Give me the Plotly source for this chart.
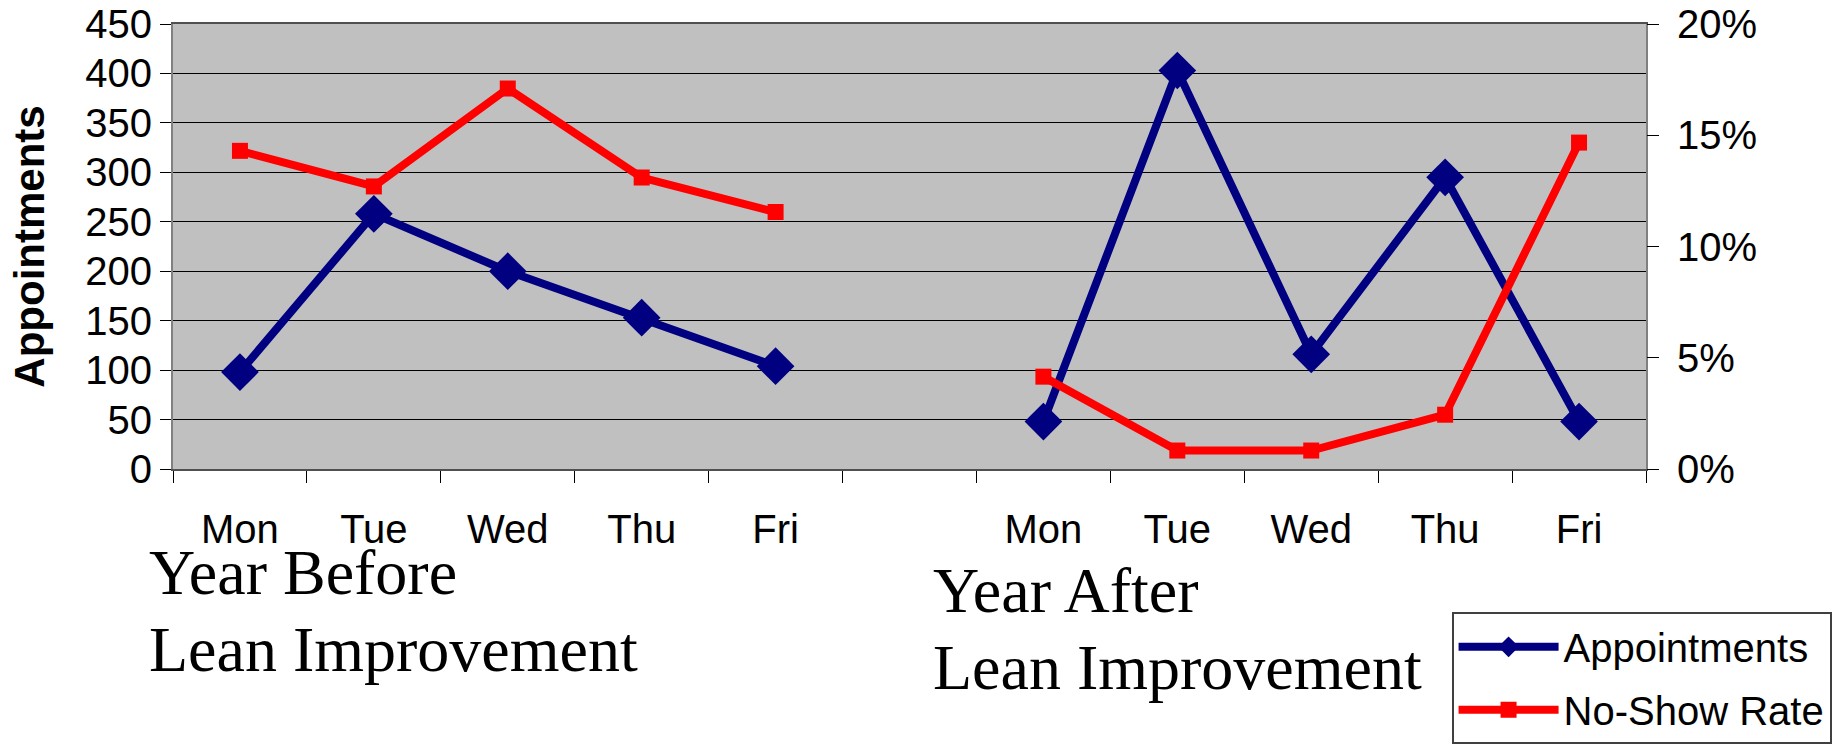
import plotly.graph_objects as go

# --- data ---
days = ["Mon", "Tue", "Wed", "Thu", "Fri"]

appts_before = [98, 258, 200, 153, 104]
appts_after = [48, 403, 116, 295, 48]

noshow_before = [0.143, 0.127, 0.171, 0.131, 0.1155]
noshow_after = [0.0415, 0.0083, 0.0083, 0.0244, 0.1467]

period_before = ["Year Before", "Lean Improvement"]
period_after = ["Year After", "Lean Improvement"]

# positions: 5 days, an empty slot, 5 days
x_before = list(range(len(days)))
x_after = [i + len(days) + 1 for i in range(len(days))]
x_all = x_before + [len(days)] + x_after
n_slots = len(x_all)

appts = appts_before + [None] + appts_after
noshow = noshow_before + [None] + noshow_after

SANS = "Liberation Sans, Arial, sans-serif"
SERIF = "Liberation Serif, Times New Roman, serif"
NAVY = "#000080"
RED = "#FF0000"

fig = go.Figure()

fig.add_trace(go.Scatter(
    x=x_all, y=appts, name="Appointments", mode="lines+markers",
    line=dict(color=NAVY, width=8),
    marker=dict(symbol="diamond", size=29, color=NAVY),
    connectgaps=False, legendgroup="a",
))

fig.add_trace(go.Scatter(
    x=x_all, y=noshow, name="No-Show Rate", mode="lines+markers",
    line=dict(color=RED, width=8),
    marker=dict(symbol="square", size=16, color=RED),
    connectgaps=False, yaxis="y2", legendgroup="b",
))

fig.update_layout(
    width=1835, height=744,
    margin=dict(l=173, r=189, t=24, b=275, autoexpand=False),
    paper_bgcolor="white",
    plot_bgcolor="#C0C0C0",
    font=dict(family=SANS, size=40, color="black"),
    xaxis=dict(
        range=[-0.5, n_slots - 0.5],
        tickmode="array", tickvals=x_before + x_after, ticktext=days + days,
        ticks="outside", ticklen=0, tickcolor="rgba(0,0,0,0)",
        ticklabelstandoff=24,
        minor=dict(
            tickmode="array",
            tickvals=[i - 0.5 for i in range(n_slots + 1)],
            ticks="outside", ticklen=12, tickcolor="black", tickwidth=1,
            showgrid=False,
        ),
        showgrid=False, zeroline=False, automargin=False,
        showline=True, linecolor="#505050", linewidth=2, mirror=True,
        tickfont=dict(size=40),
    ),
    yaxis=dict(
        range=[0, 450], dtick=50, tick0=0,
        showgrid=True, gridcolor="black", gridwidth=1,
        zeroline=False, automargin=False,
        ticks="outside", ticklen=11, tickcolor="black",
        showline=True, linecolor="#808080", linewidth=2, mirror=True,
        tickfont=dict(size=40),
        title=dict(text="<b>Appointments</b>", font=dict(size=42), standoff=28),
    ),
    yaxis2=dict(
        range=[0, 0.2], dtick=0.05, tick0=0, tickformat=".0%",
        overlaying="y", side="right", anchor="x",
        showgrid=False, zeroline=False, automargin=False,
        ticks="outside", ticklen=12, tickcolor="black",
        tickfont=dict(size=40), ticklabelstandoff=10,
    ),
    yaxis3=dict(
        range=[0, 0.2], dtick=0.05, tick0=0,
        overlaying="y", side="right", anchor="x",
        showgrid=False, zeroline=False, showticklabels=False, automargin=False,
        ticks="inside", ticklen=12, tickcolor="black",
    ),
    legend=dict(
        x=0.868, xanchor="left", y=-0.322, yanchor="top",
        bgcolor="white", bordercolor="#404040", borderwidth=2,
        font=dict(size=40), tracegroupgap=8, itemwidth=100,
    ),
    showlegend=True,
)

# period captions under the day labels, one annotation per line
caption_x = [-0.0177, 0.5146]
caption_y = [[-0.232, -0.405], [-0.273, -0.4456]]
for lines, cx, ys in zip([period_before, period_after], caption_x, caption_y):
    for text, cy in zip(lines, ys):
        fig.add_annotation(
            text=text, xref="paper", yref="paper", x=cx, y=cy,
            xanchor="left", yanchor="middle", align="left", showarrow=False,
            font=dict(family=SERIF, size=64, color="black"),
        )

fig.write_html(
    "out.html",
    config={"displayModeBar": False},
    post_script="document.body.style.margin='0';",
)
